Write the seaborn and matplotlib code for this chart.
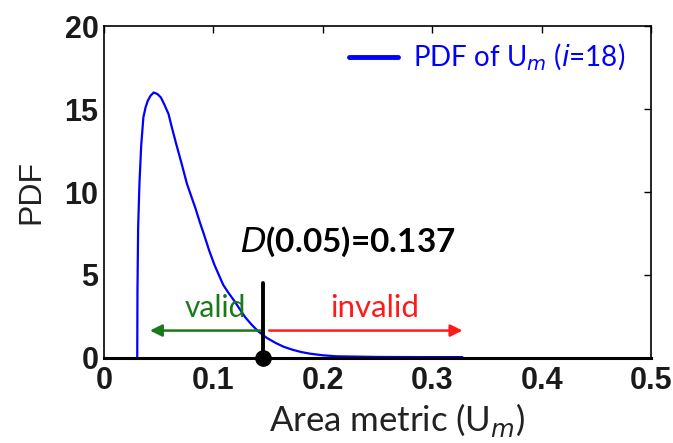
import matplotlib
matplotlib.use("Agg")
import matplotlib.pyplot as plt
import seaborn as sns
import pandas as pd

sns.set_theme(style="white")
plt.rcParams['font.family'] = ['Lato', 'DejaVu Sans']

# data
area_metric = [0.0304, 0.0306, 0.0312, 0.0324, 0.034, 0.036, 0.038, 0.040, 0.0425, 0.0454,
               0.049, 0.052, 0.055, 0.059, 0.062, 0.066, 0.071, 0.0758, 0.0800, 0.0837,
               0.0875, 0.0916, 0.096, 0.101, 0.105, 0.109, 0.114, 0.119, 0.124, 0.129,
               0.135, 0.141, 0.149, 0.157, 0.164, 0.172, 0.180, 0.188, 0.200, 0.212,
               0.25, 0.29, 0.3276]
pdf_values = [0.0, 4.0, 7.8, 10.5, 12.8, 14.5, 15.1, 15.5, 15.8, 16.0,
              15.9, 15.7, 15.3, 14.7, 13.9, 12.9, 11.7, 10.5, 9.7, 9.0,
              8.2, 7.4, 6.5, 5.6, 5.0, 4.4, 3.9, 3.45, 2.95, 2.46,
              2.0, 1.6, 1.2, 0.9, 0.68, 0.5, 0.36, 0.26, 0.16, 0.1,
              0.06, 0.05, 0.05]
d_value = 0.145
d_line_top = 4.5
arrow_y = 1.65
valid_left = 0.042
invalid_right = 0.3276
x_ticks = [0, 0.1, 0.2, 0.3, 0.4, 0.5]
x_tick_labels = ["0", "0.1", "0.2", "0.3", "0.4", "0.5"]
y_ticks = [0, 5, 10, 15, 20]

df = pd.DataFrame({"x": area_metric, "pdf": pdf_values})

fig = plt.figure(figsize=(6.73, 4.43), dpi=100)
ax = fig.add_axes([0.1545, 0.192, 0.813, 0.749])

sns.lineplot(data=df, x="x", y="pdf", ax=ax, color="#0000ff", lw=1.6, legend=False)

# D line and marker
ax.plot([d_value, d_value], [0, d_line_top], color="black", lw=2.8, zorder=4)
ax.plot([d_value], [0], "o", color="black", ms=11, zorder=6, clip_on=False)

# arrows
ax.annotate("", xy=(valid_left, arrow_y), xytext=(d_value, arrow_y),
            arrowprops=dict(arrowstyle="-|>", color="#1a7a1a", lw=1.8, mutation_scale=18,
                            shrinkA=0, shrinkB=0), zorder=3)
ax.annotate("", xy=(invalid_right, arrow_y), xytext=(d_value + 0.006, arrow_y),
            arrowprops=dict(arrowstyle="-|>", color="#ff1a1a", lw=1.8, mutation_scale=18,
                            shrinkA=0, shrinkB=0), zorder=3)

ax.text(0.102, 3.0, "valid", color="#1a7a1a", fontsize=21.5, ha="center", va="center")
ax.text(0.247, 3.0, "invalid", color="#ff1a1a", fontsize=22.5, ha="center", va="center")
ax.text(0.223, 7.0, r"$\mathbf{\mathit{D}}$(0.05)=0.137", color="black", fontsize=24,
        fontweight="bold", ha="center", va="center")

# legend-like entry
ax.plot([0.224, 0.269], [18.15, 18.15], color="#0000ff", lw=3.5)
ax.text(0.282, 18.15, r"PDF of U$_{\mathit{m}}$ ($\mathit{i}$=18)", color="#0000ff",
        fontsize=20, ha="left", va="center")

ax.set_xlim(0, 0.5)
ax.set_ylim(0, 20)
ax.set_xticks(x_ticks)
ax.set_xticklabels(x_tick_labels)
ax.set_yticks(y_ticks)
for lab in ax.get_xticklabels() + ax.get_yticklabels():
    lab.set_family(['Liberation Sans', 'DejaVu Sans'])
    lab.set_fontsize(22)
    lab.set_fontweight("bold")
    lab.set_color("#1a1a1a")
ax.tick_params(direction="in", top=True, right=True, length=5, width=1, colors="black",
               labelcolor="#1a1a1a")
ax.tick_params(axis="x", pad=6)
ax.tick_params(axis="y", pad=4)
ax.set_xlabel(r"Area metric (U$_{\mathit{m}}$)", fontsize=25, color="#222222")
ax.set_ylabel("PDF", fontsize=23, color="#222222",
              family=['Liberation Sans', 'DejaVu Sans'])
ax.xaxis.set_label_coords(0.536, -0.13)
ax.yaxis.set_label_coords(-0.105, 0.5)

for side, sp in ax.spines.items():
    sp.set_visible(True)
    sp.set_color("black")
    sp.set_linewidth(1.2)
ax.spines['bottom'].set_linewidth(2.2)

fig.savefig("out.png", dpi=100)
